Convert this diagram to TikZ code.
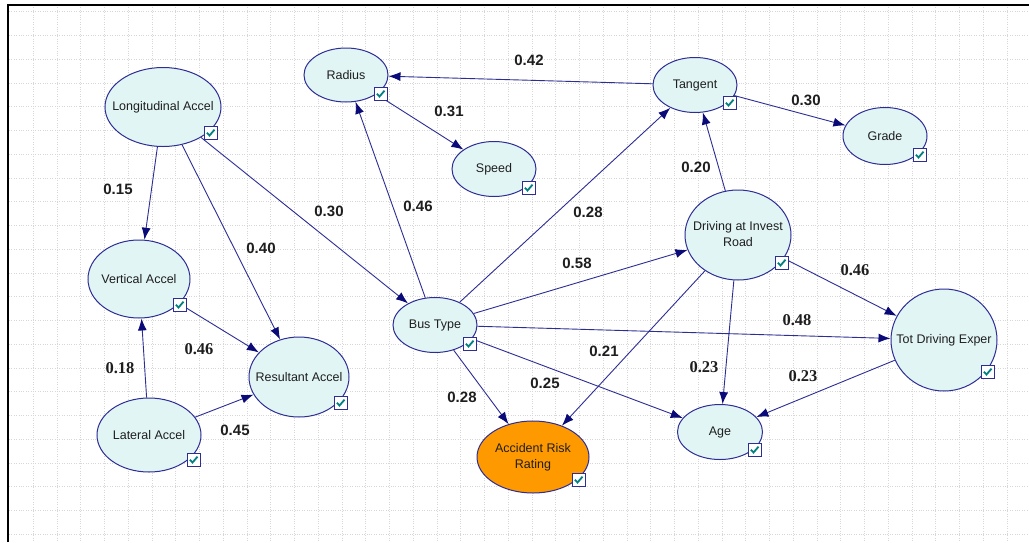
\documentclass[tikz,border=0pt]{standalone}
\usepackage{fontspec}
\setmainfont{Liberation Sans}
\newfontfamily\serifbold{Liberation Serif}
\usetikzlibrary{shapes.geometric,arrows.meta,calc}
\definecolor{ndfill}{RGB}{226,245,245}
\definecolor{ndborder}{RGB}{45,45,150}
\definecolor{edgec}{RGB}{45,45,150}
\definecolor{arrc}{RGB}{10,10,120}
\definecolor{txt}{RGB}{30,30,30}
\definecolor{checkc}{RGB}{0,128,128}
\definecolor{gridc}{RGB}{215,215,215}
\definecolor{accfill}{RGB}{255,153,0}
\newcommand\zt[1]{\makebox[0pt]{#1}}
\newcommand\zz[2]{\makebox[0pt]{\begin{tabular}{@{}c@{}}#1\\#2\end{tabular}}}
\begin{document}
\begin{tikzpicture}[x=1pt,y=-1pt,
  nd/.style={ellipse, draw=ndborder, fill=ndfill, line width=1pt, inner sep=0pt,
    font=\fontsize{12.5}{16}\selectfont, text=txt},
  chk/.style={draw=ndborder, fill=white, line width=0.9pt, minimum size=12.5pt,
    inner sep=0pt, anchor=north west,
    path picture={\draw[checkc, line width=1.8pt]
      ($(path picture bounding box.center)+(-3.8,0)$) --
      ($(path picture bounding box.center)+(-1.2,2.8)$) --
      ($(path picture bounding box.center)+(3.8,-3)$);}},
  edge/.style={draw=edgec, line width=0.9pt, -{Latex[length=12pt,width=9pt,color=arrc]}},
  lbl/.style={font=\bfseries\fontsize{15}{18}\selectfont, text=txt, inner sep=0pt},
  lbls/.style={font=\serifbold\bfseries\fontsize{16.5}{18}\selectfont, text=txt, inner sep=0pt}]
\fill[white] (0,0) rectangle (1029,542);
\useasboundingbox (0,0) rectangle (1029,542);
% grid
\foreach \k in {0,...,41} {
  \draw[gridc, line width=0.8pt, dash pattern=on 1pt off 1.4pt] ({33.3+23.75*\k},5) -- ({33.3+23.75*\k},542);
}
\foreach \k in {0,...,22} {
  \draw[gridc, line width=0.8pt, dash pattern=on 1pt off 1.4pt] (9,{11.7+23.75*\k}) -- (1029,{11.7+23.75*\k});
}
% frame
\draw[black, line width=2pt] (8,542) -- (8,4.5) -- (1029,4.5);

% nodes
\node[nd, minimum width=116pt, minimum height=79pt] (LA) at (163,107) {\zt{Longitudinal Accel}};
\node[nd, minimum width=84pt, minimum height=54pt] (RA) at (346,75) {\zt{Radius}};
\node[nd, minimum width=84pt, minimum height=55pt] (SP) at (494,169) {\zt{Speed}};
\node[nd, minimum width=84pt, minimum height=55pt] (TG) at (695,85) {\zt{Tangent}};
\node[nd, minimum width=84pt, minimum height=57pt] (GR) at (885,136) {\zt{Grade}};
\node[nd, minimum width=102pt, minimum height=78pt] (VA) at (139,279) {\zt{Vertical Accel}};
\node[nd, minimum width=100pt, minimum height=80pt] (RS) at (299,377) {\zt{Resultant Accel}};
\node[nd, minimum width=104pt, minimum height=74pt] (LT) at (149,435) {\zt{Lateral Accel}};
\node[nd, minimum width=84pt, minimum height=55pt] (BT) at (435,325) {\zt{Bus Type}};
\node[nd, fill=accfill, minimum width=112pt, minimum height=72pt] (AR) at (533,457) {\zz{Accident Risk}{Rating}};
\node[nd, minimum width=106pt, minimum height=90pt] (DR) at (738,235) {\zz{Driving at Invest}{Road}};
\node[nd, minimum width=106pt, minimum height=102pt] (TD) at (944,340) {\zt{Tot Driving Exper}};
\node[nd, minimum width=85pt, minimum height=55pt] (AG) at (720,432) {\zt{Age}};

% edges
\draw[edge] (TG) -- (RA);
\draw[edge] (RA) -- (SP);
\draw[edge] (TG) -- (GR);
\draw[edge] (LA) -- (VA);
\draw[edge] (LA) -- (RS);
\draw[edge] (LA) -- (BT);
\draw[edge] (BT) -- (RA);
\draw[edge] (BT) -- (TG);
\draw[edge] (DR) -- (TG);
\draw[edge] (BT) -- (DR);
\draw[edge] (DR) -- (TD);
\draw[edge] (BT) -- (TD);
\draw[edge] (VA) -- (RS);
\draw[edge] (LT) -- (VA);
\draw[edge] (LT) -- (RS);
\draw[edge] (DR) -- (AR);
\draw[edge] (DR) -- (AG);
\draw[edge] (TD) -- (AG);
\draw[edge] (BT) -- (AR);
\draw[edge] (BT) -- (AG);

% checkboxes
\node[chk] (cLA) at ($(LA)+(41,19)$) {};
\node[chk] (cRA) at ($(RA)+(28,12)$) {};
\node[chk] (cSP) at ($(SP)+(28,12)$) {};
\node[chk] (cTG) at ($(TG)+(28,11)$) {};
\node[chk] (cGR) at ($(GR)+(28,12)$) {};
\node[chk] (cVA) at ($(VA)+(34,19)$) {};
\node[chk] (cRS) at ($(RS)+(35,19)$) {};
\node[chk] (cLT) at ($(LT)+(38,18)$) {};
\node[chk] (cBT) at ($(BT)+(28,12)$) {};
\node[chk] (cAR) at ($(AR)+(39,16)$) {};
\node[chk] (cDR) at ($(DR)+(37,21)$) {};
\node[chk] (cTD) at ($(TD)+(37,25)$) {};
\node[chk] (cAG) at ($(AG)+(28,11)$) {};

% labels
\node[lbl] (l1) at (529,60) {0.42};
\node[lbl] (l2) at (449,111) {0.31};
\node[lbl] (l3) at (806,100) {0.30};
\node[lbl] (l4) at (118,189) {0.15};
\node[lbl] (l5) at (329,211) {0.30};
\node[lbl] (l6) at (418,206) {0.46};
\node[lbl] (l7) at (588,212) {0.28};
\node[lbl] (l8) at (696,167) {0.20};
\node[lbl] (l9) at (261,248) {0.40};
\node[lbl] (l10) at (577,263) {0.58};
\node[lbls] (l11) at (855,270) {0.46};
\node[lbls] (l12) at (797,320) {0.48};
\node[lbls] (l13) at (199,349) {0.46};
\node[lbls] (l14) at (120,368) {0.18};
\node[lbl] (l15) at (604,351) {0.21};
\node[lbls] (l16) at (704,367) {0.23};
\node[lbls] (l17) at (803,376) {0.23};
\node[lbl] (l18) at (462,397) {0.28};
\node[lbl] (l19) at (545,383) {0.25};
\node[lbl] (l20) at (235,430) {0.45};
\end{tikzpicture}
\end{document}
